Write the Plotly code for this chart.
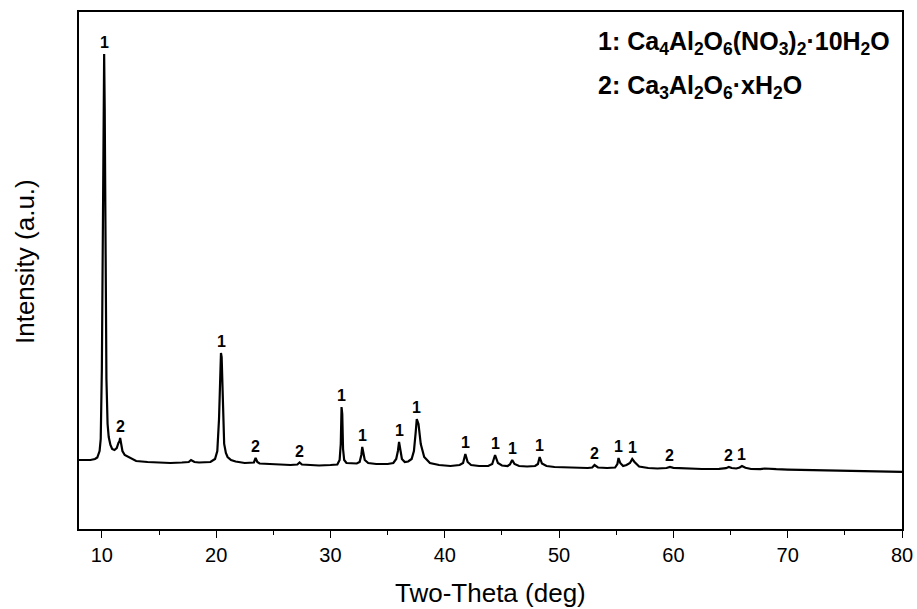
import plotly.graph_objects as go

# Pattern: (two-theta in deg, intensity in a.u.)
pattern_points = [
    (8.0, 690), (8.5, 692), (9.0, 690), (9.4, 700), (9.6, 715), (9.8, 780), (9.9, 900),
    (10.0, 1600), (10.05, 2700), (10.1, 3900), (10.15, 4580), (10.2, 4750), (10.25, 4200),
    (10.3, 3300), (10.35, 2200), (10.4, 1500), (10.5, 1050), (10.6, 920), (10.75, 840),
    (10.9, 800), (11.1, 790), (11.3, 810), (11.45, 860), (11.55, 880), (11.6, 910),
    (11.68, 850), (11.8, 780), (12.0, 740), (12.3, 720), (12.7, 700), (13.0, 680),
    (14.0, 670), (15.0, 665), (16.0, 660), (17.0, 665), (17.6, 670), (17.8, 690),
    (18.1, 670), (18.5, 665), (19.0, 665), (19.5, 670), (19.9, 700), (20.1, 780),
    (20.25, 1100), (20.35, 1500), (20.42, 1760), (20.48, 1720), (20.55, 1400), (20.62, 1000),
    (20.7, 850), (20.85, 760), (21.0, 720), (21.3, 690), (21.7, 675), (22.5, 660),
    (23.1, 660), (23.3, 665), (23.45, 710), (23.6, 670), (23.8, 655), (24.5, 650),
    (25.5, 645), (26.5, 640), (27.1, 645), (27.3, 665), (27.5, 645), (28.0, 640),
    (29.0, 635), (30.0, 640), (30.6, 645), (30.8, 690), (30.9, 850), (30.97, 1220),
    (31.03, 1150), (31.1, 800), (31.2, 690), (31.4, 660), (31.8, 655), (32.3, 655),
    (32.55, 670), (32.7, 740), (32.78, 820), (32.88, 760), (33.0, 690), (33.3, 660),
    (34.0, 650), (35.0, 650), (35.5, 660), (35.75, 700), (35.9, 780), (36.0, 870),
    (36.1, 790), (36.25, 700), (36.5, 670), (36.8, 675), (37.1, 700), (37.3, 780),
    (37.45, 960), (37.55, 1100), (37.7, 1050), (37.9, 850), (38.2, 720), (38.7, 660),
    (39.5, 640), (40.5, 630), (41.3, 640), (41.6, 660), (41.8, 750), (42.0, 670),
    (42.3, 640), (43.0, 630), (43.8, 630), (44.15, 650), (44.4, 740), (44.65, 660),
    (45.0, 635), (45.5, 630), (45.7, 645), (45.9, 690), (46.1, 650), (46.5, 630),
    (47.2, 625), (47.9, 630), (48.15, 650), (48.3, 720), (48.5, 655), (48.9, 630),
    (49.6, 620), (50.5, 615), (51.5, 610), (52.5, 610), (52.9, 615), (53.1, 640),
    (53.4, 615), (54.2, 610), (54.9, 615), (55.1, 650), (55.2, 710), (55.35, 660),
    (55.6, 630), (55.9, 640), (56.2, 660), (56.4, 700), (56.6, 670), (57.0, 625),
    (57.8, 610), (58.6, 605), (59.4, 610), (59.7, 620), (60.0, 612), (61.0, 605),
    (62.5, 600), (64.0, 602), (64.6, 608), (64.85, 620), (65.1, 610), (65.5, 605),
    (65.8, 615), (66.0, 630), (66.3, 612), (66.8, 600), (67.6, 598), (68.0, 605),
    (68.4, 600), (69.0, 598), (70.0, 594), (71.5, 590), (73.0, 585), (75.0, 580),
    (77.0, 578), (78.5, 575), (80.0, 572),
]
two_theta = [p[0] for p in pattern_points]
intensity = [p[1] for p in pattern_points]

# Peak labels (position, peak intensity, phase number)
label_x = [10.2, 11.6, 20.45, 23.45, 27.3, 31.0, 32.8, 36.0, 37.55, 41.8, 44.4, 45.9, 48.3, 53.1, 55.2, 56.4, 59.7, 64.85, 66.0]
label_y = [4750, 910, 1760, 710, 665, 1220, 820, 870, 1100, 750, 740, 690, 720, 640, 710, 700, 620, 620, 630]
label_text = ["1", "2", "1", "2", "2", "1", "1", "1", "1", "1", "1", "1", "1", "2", "1", "1", "2", "2", "1"]

legend_lines = [
    "1: Ca<sub>4</sub>Al<sub>2</sub>O<sub>6</sub>(NO<sub>3</sub>)<sub>2</sub>·10H<sub>2</sub>O",
    "2: Ca<sub>3</sub>Al<sub>2</sub>O<sub>6</sub>·xH<sub>2</sub>O",
]

FONT = "Arial, Liberation Sans, sans-serif"
L, R, T, B = 79, 15, 12, 80
W, H = 917, 609
pw, ph = W - L - R, H - T - B

def px_x(p):
    return (p - L) / pw

def px_y(p):
    return 1 - (p - T) / ph

fig = go.Figure()
fig.add_trace(go.Scatter(x=two_theta, y=intensity, mode="lines",
                         line=dict(color="black", width=2.2), showlegend=False,
                         hoverinfo="x+y"))

for lx, ly, lt in zip(label_x, label_y, label_text):
    fig.add_annotation(x=lx, y=ly, text="<b>%s</b>" % lt, showarrow=False,
                       yanchor="bottom", yshift=1,
                       font=dict(family=FONT, size=16, color="black"))

for i, t in enumerate(legend_lines):
    fig.add_annotation(x=px_x(596), y=px_y(43 + 44 * i),
                       xref="paper", yref="paper", text="<b>%s</b>" % t,
                       showarrow=False, xanchor="left", yanchor="middle",
                       font=dict(family=FONT, size=25, color="black"))

# axis titles placed as annotations to match the source positions exactly
fig.add_annotation(x=px_x(25), y=px_y(262), xref="paper", yref="paper",
                   text="Intensity (a.u.)", textangle=-90, showarrow=False,
                   xanchor="center", yanchor="middle",
                   font=dict(family=FONT, size=26, color="black"))
fig.add_annotation(x=px_x(490), y=px_y(609), xref="paper", yref="paper",
                   text="Two-Theta (deg)", showarrow=False, borderpad=0,
                   xanchor="center", yanchor="bottom",
                   font=dict(family=FONT, size=26, color="black"))

fig.update_layout(
    width=W, height=H,
    margin=dict(l=L, r=R, t=T, b=B),
    paper_bgcolor="white", plot_bgcolor="white",
    font=dict(family=FONT, color="black"),
    xaxis=dict(range=[8, 80], tickvals=[10, 20, 30, 40, 50, 60, 70, 80],
               ticks="outside", ticklen=7, tickwidth=1.3, tickcolor="black",
               minor=dict(tickvals=[15, 25, 35, 45, 55, 65, 75], ticks="outside", ticklen=4,
                          tickwidth=1.3, tickcolor="black"),
               showline=True, linecolor="black", linewidth=1.5, mirror=True,
               showgrid=False, zeroline=False, automargin=False,
               tickfont=dict(size=20, family=FONT)),
    yaxis=dict(range=[0, 5170], showticklabels=False, ticks="",
               showline=True, linecolor="black", linewidth=1.5, mirror=True,
               showgrid=False, zeroline=False, automargin=False),
)

fig.write_html("out.html")
